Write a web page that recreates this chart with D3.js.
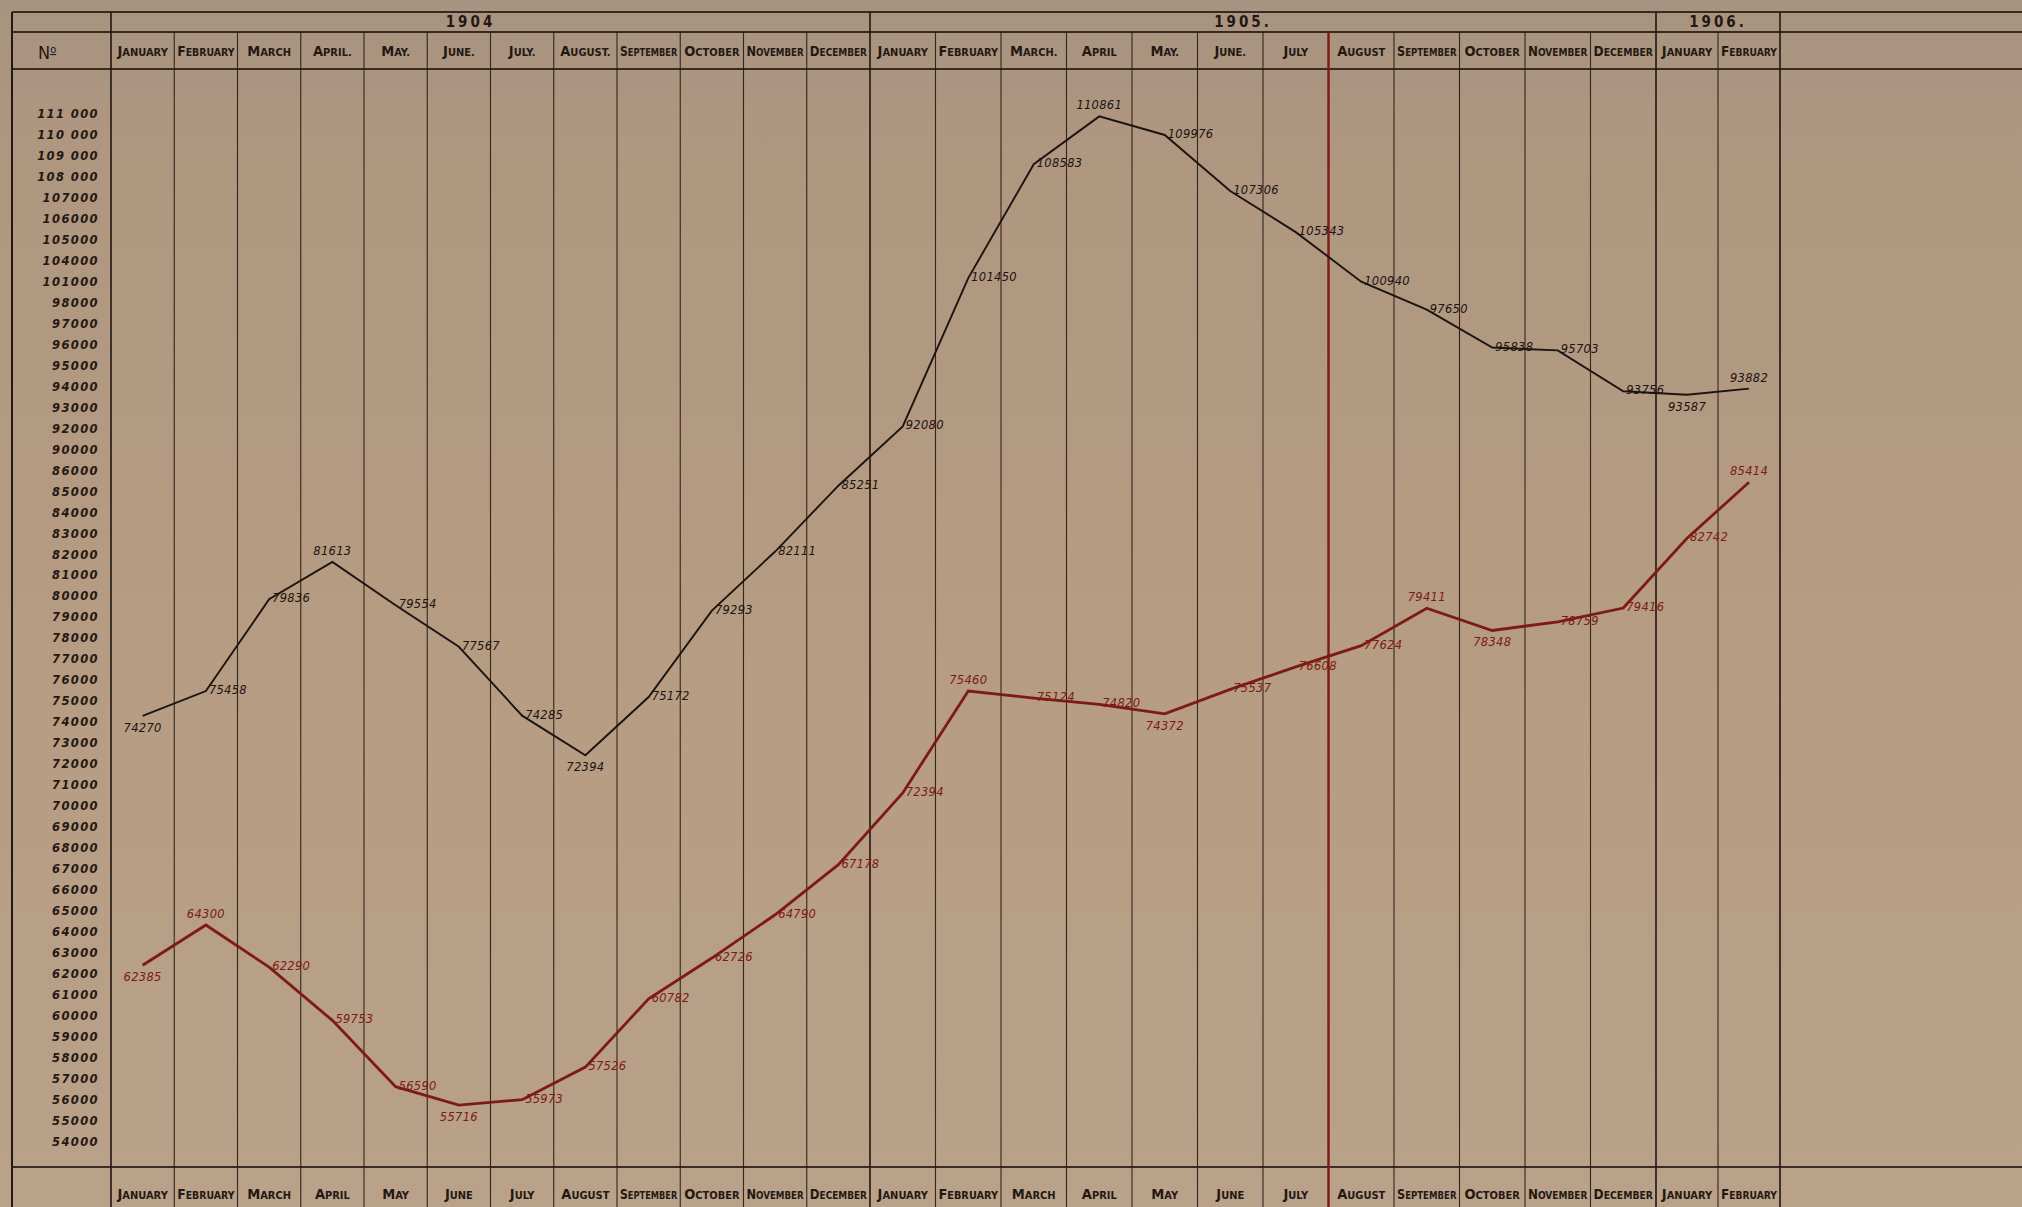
<!DOCTYPE html>
<html>
<head>
<meta charset="utf-8">
<script src="https://cdn.jsdelivr.net/npm/d3@7"></script>
<style>
  html, body { margin: 0; padding: 0; overflow: hidden; background: #b49b81; }
  svg { display: block; }
</style>
</head>
<body>
<div id="chart"></div>
<script>
(function () {
    // years in the top header row and how many months each spans
    const years = ['1904', '1905.', '1906.'];
    const yearSpans = [12, 12, 2];

    const headerMonths = [
        'January', 'February', 'March', 'April.', 'May.', 'June.', 'July.', 'August.',
        'September', 'October', 'November', 'December',
        'January', 'February', 'March.', 'April', 'May.', 'June.', 'July', 'August',
        'September', 'October', 'November', 'December',
        'January', 'February'
    ];
    const footerMonths = [
        'January', 'February', 'March', 'April', 'May', 'June', 'July', 'August',
        'September', 'October', 'November', 'December',
        'January', 'February', 'March', 'April', 'May', 'June', 'July', 'August',
        'September', 'October', 'November', 'December',
        'January', 'February'
    ];

    // black series
    const blackValues = [
        74270, 75458, 79836, 81613, 79554, 77567, 74285, 72394, 75172, 79293, 82111, 85251,
        92080, 101450, 108583, 110861, 109976, 107306, 105343, 100940, 97650, 95838, 95703, 93756,
        93587, 93882
    ];

    // red series (value as plotted, label as written on the sheet)
    const redValues = [
        62385, 64300, 62290, 59753, 56590, 55716, 55973, 57526, 60782, 62726, 64790, 67178,
        70600, 75460, 75124, 74820, 74372, 75537, 76608, 77624, 79411, 78348, 78759, 79416,
        82742, 85414
    ];
    const redLabels = [
        '62385', '64300', '62290', '59753', '56590', '55716', '55973', '57526', '60782', '62726', '64790', '67178',
        '72394', '75460', '75124', '74820', '74372', '75537', '76608', '77624', '79411', '78348', '78759', '79416',
        '82742', '85414'
    ];

    // the vertical scale of the sheet is not even: every ruled step is one row
    const yTickValues = [
        111000, 110000, 109000, 108000, 107000, 106000, 105000, 104000, 101000, 98000,
        97000, 96000, 95000, 94000, 93000, 92000, 90000, 86000, 85000, 84000,
        83000, 82000, 81000, 80000, 79000, 78000, 77000, 76000, 75000, 74000,
        73000, 72000, 71000, 70000, 69000, 68000, 67000, 66000, 65000, 64000,
        63000, 62000, 61000, 60000, 59000, 58000, 57000, 56000, 55000, 54000
    ];
    const yTickLabels = [
        '111 000', '110 000', '109 000', '108 000', '107000', '106000', '105000', '104000', '101000', '98000',
        '97000', '96000', '95000', '94000', '93000', '92000', '90000', '86000', '85000', '84000',
        '83000', '82000', '81000', '80000', '79000', '78000', '77000', '76000', '75000', '74000',
        '73000', '72000', '71000', '70000', '69000', '68000', '67000', '66000', '65000', '64000',
        '63000', '62000', '61000', '60000', '59000', '58000', '57000', '56000', '55000', '54000'
    ];

    const W = 2022, H = 1207;
    const rows = {top: 12, year: 32, month: 69, foot: 1167};
    const yTop = 113.5, yStep = 20.97;
    const ink = '#241812';
    const red = '#7e1a14';
    const headFont = "'Liberation Sans Narrow', 'DejaVu Sans Condensed', sans-serif";
    const numFont = "'DejaVu Sans', sans-serif";

    const svg = d3.select('#chart')
        .append('svg')
        .attr('width', W)
        .attr('height', H);

    const defs = svg.append('defs');
    const grad = defs.append('linearGradient')
        .attr('id', 'paper')
        .attr('x1', 0).attr('y1', 0).attr('x2', 0).attr('y2', 1);
    grad.append('stop').attr('offset', '0%').attr('stop-color', '#a7937f');
    grad.append('stop').attr('offset', '10%').attr('stop-color', '#ae9680');
    grad.append('stop').attr('offset', '55%').attr('stop-color', '#b69c82');
    grad.append('stop').attr('offset', '100%').attr('stop-color', '#b9a18a');

    svg.append('rect')
        .attr('width', W)
        .attr('height', H)
        .attr('fill', 'url(#paper)');

    // month index -> left edge of its column; the ruled years are not quite equal
    const yearStarts = d3.cumsum([0].concat(yearSpans));
    const n = headerMonths.length;
    const xs = d3.scaleLinear()
        .domain(yearStarts)
        .range([111, 870, 1656, 1780]);
    const cx = (i) => (xs(i) + xs(i + 1)) / 2;
    const cw = (i) => xs(i + 1) - xs(i);

    const y = d3.scaleLinear()
        .domain(yTickValues)
        .range(yTickValues.map((d, i) => yTop + i * yStep));

    // ---- ruling ----
    const grid = svg.append('g').attr('stroke', ink).attr('fill', 'none');

    [rows.top, rows.year, rows.month, rows.foot].forEach((ry) => {
        grid.append('line')
            .attr('x1', 12).attr('x2', W)
            .attr('y1', ry).attr('y2', ry)
            .attr('stroke-width', 1.8)
            .attr('opacity', 0.85);
    });

    grid.append('line')
        .attr('x1', 12).attr('x2', 12)
        .attr('y1', rows.top).attr('y2', H)
        .attr('stroke-width', 2);

    grid.selectAll('.month-rule')
        .data(d3.range(n + 1))
        .enter().append('line')
        .attr('class', 'month-rule')
        .attr('x1', xs).attr('x2', xs)
        .attr('y1', (i) => yearStarts.includes(i) ? rows.top : rows.year)
        .attr('y2', H)
        .attr('stroke-width', (i) => yearStarts.includes(i) ? 1.8 : 1.1)
        .attr('opacity', 0.9);

    // red rule between July and August 1905
    grid.append('line')
        .attr('x1', xs(19)).attr('x2', xs(19))
        .attr('y1', rows.year).attr('y2', H)
        .attr('stroke', red)
        .attr('stroke-width', 2.4);

    // ---- header ----
    const header = svg.append('g').attr('fill', ink);

    function fitText(sel, maxW) {
        sel.each(function () {
            const len = this.getComputedTextLength();
            if (len > maxW) {
                d3.select(this)
                    .attr('textLength', maxW)
                    .attr('lengthAdjust', 'spacingAndGlyphs');
            }
        });
    }

    function smallCaps(g, word, i, cy) {
        const t = g.append('text')
            .attr('x', cx(i))
            .attr('y', cy)
            .attr('text-anchor', 'middle')
            .attr('font-family', headFont)
            .attr('font-weight', 'bold');
        t.append('tspan').attr('font-size', 14.5).text(word[0].toUpperCase());
        t.append('tspan').attr('font-size', 11).text(word.slice(1).toUpperCase());
        fitText(t, cw(i) - 6);
        return t;
    }

    headerMonths.forEach((m, i) => smallCaps(header, m, i, 56));
    footerMonths.forEach((m, i) => smallCaps(header, m, i, 1199));

    years.forEach((yr, k) => {
        const x0 = xs(yearStarts[k]);
        const x1 = xs(yearStarts[k + 1]);
        header.append('text')
            .attr('x', (x0 + x1) / 2 - (k < 2 ? 20 : 0))
            .attr('y', 27)
            .attr('text-anchor', 'middle')
            .attr('font-family', headFont)
            .attr('font-weight', 'bold')
            .attr('font-size', 15)
            .attr('letter-spacing', 3)
            .text(yr);
    });

    const no = header.append('text')
        .attr('x', 38)
        .attr('y', 59)
        .attr('font-family', headFont)
        .attr('font-size', 18);
    no.append('tspan').text('N');
    no.append('tspan').attr('font-size', 11).attr('dy', -6).attr('text-decoration', 'underline').text('o');

    // ---- y axis ----
    const yAxis = d3.axisLeft(y)
        .tickValues(yTickValues)
        .tickFormat((d, i) => yTickLabels[i])
        .tickSize(0)
        .tickPadding(0);

    const ya = svg.append('g')
        .attr('transform', 'translate(99,0)')
        .call(yAxis);
    ya.select('.domain').remove();
    ya.selectAll('text')
        .attr('fill', ink)
        .attr('font-family', numFont)
        .attr('font-style', 'italic')
        .attr('font-weight', 'bold')
        .attr('font-size', 11.5)
        .attr('letter-spacing', 1.4)
        .attr('dy', '0.36em');

    // ---- series ----
    const line = d3.line()
        .x((d, i) => cx(i))
        .y((d) => y(d));

    function drawSeries(values, labels, colour, width) {
        const g = svg.append('g');
        g.append('path')
            .datum(values)
            .attr('d', line)
            .attr('fill', 'none')
            .attr('stroke', colour)
            .attr('stroke-width', width)
            .attr('stroke-linejoin', 'miter');

        const last = values.length - 1;
        g.selectAll('text')
            .data(values)
            .enter().append('text')
            .each(function (d, i) {
                const prev = i > 0 ? values[i - 1] : null;
                const next = i < last ? values[i + 1] : null;
                const peak = (prev === null || prev < d) && (next === null || next < d);
                const valley = (prev === null || prev > d) && (next === null || next > d);
                const t = d3.select(this);
                if (peak) {
                    t.attr('x', cx(i)).attr('y', y(d) - 7).attr('text-anchor', 'middle');
                } else if (valley) {
                    t.attr('x', cx(i)).attr('y', y(d) + 16).attr('text-anchor', 'middle');
                } else {
                    t.attr('x', cx(i) + 3).attr('y', y(d) + 3).attr('text-anchor', 'start');
                }
            })
            .attr('fill', colour)
            .attr('font-family', numFont)
            .attr('font-style', 'italic')
            .attr('font-size', 11.5)
            .attr('letter-spacing', 0.3)
            .text((d, i) => labels ? labels[i] : String(d));
    }

    drawSeries(blackValues, null, '#1c1410', 1.9);
    drawSeries(redValues, redLabels, red, 2.8);
})();
</script>
</body>
</html>
